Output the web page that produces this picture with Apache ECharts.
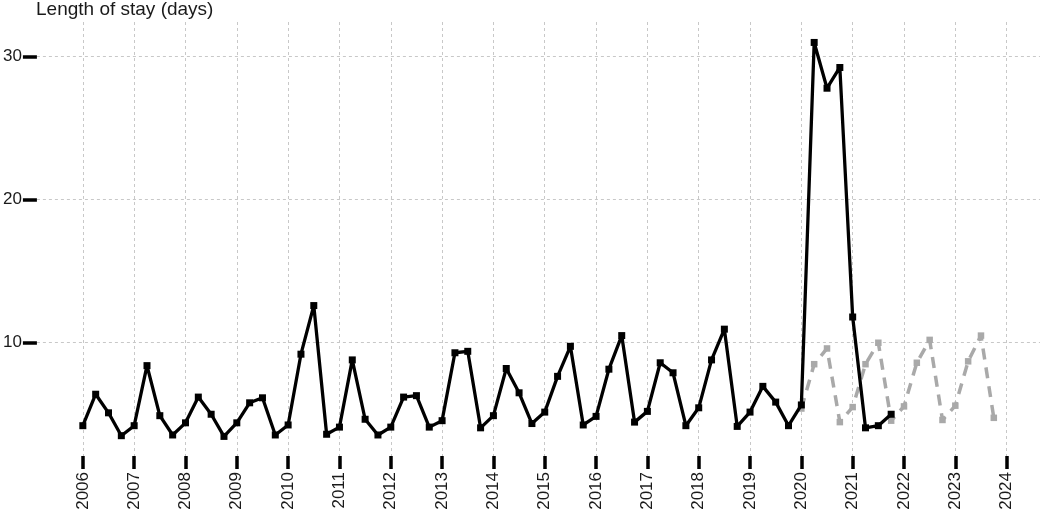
<!DOCTYPE html>
<html>
<head>
<meta charset="utf-8">
<script src="https://cdn.jsdelivr.net/npm/echarts@6/dist/echarts.min.js"></script>
<style>
html,body{margin:0;padding:0;background:#fff;}
#chart{width:1040px;height:514px;}
</style>
</head>
<body>
<div id="chart"></div>
<script>
// Quarterly data, first quarter of each start year
const observedStart = 2006;
const observedValues = [
  4.2, 6.4, 5.1, 3.5,
  4.2, 8.4, 4.9, 3.55,
  4.4, 6.2, 5.0, 3.45,
  4.4, 5.8, 6.15, 3.55,
  4.25, 9.2, 12.6, 3.6,
  4.1, 8.8, 4.65, 3.55,
  4.1, 6.2, 6.3, 4.1,
  4.55, 9.3, 9.4, 4.05,
  4.9, 8.2, 6.5, 4.35,
  5.15, 7.65, 9.75, 4.25,
  4.85, 8.15, 10.5, 4.45,
  5.2, 8.6, 7.9, 4.2,
  5.45, 8.8, 10.95, 4.15,
  5.15, 6.95, 5.85, 4.2,
  5.65, 31.0, 27.8, 29.25,
  11.8, 4.05, 4.2, 5.0
];
const expectedStart = 2020;
const expectedValues = [
  5.4, 8.5, 9.6, 4.45,
  5.5, 8.5, 10.0, 4.55,
  5.55, 8.6, 10.2, 4.6,
  5.6, 8.7, 10.5, 4.75
];
const yearTicks = [2006,2007,2008,2009,2010,2011,2012,2013,2014,2015,2016,2017,2018,2019,2020,2021,2022,2023,2024];
const valueTicks = [10, 20, 30];
const titleText = 'Length of stay (days)';

function toPoints(start, vals) {
  return vals.map((v, i) => [start + i * 0.25, v]);
}

const font = '"Liberation Sans", Arial, sans-serif';
const chart = echarts.init(document.getElementById('chart'), null, {renderer: 'canvas'});
chart.setOption({
  animation: false,
  backgroundColor: '#ffffff',
  title: {
    text: titleText,
    left: 36, top: 0, padding: 0,
    textStyle: {fontFamily: font, fontSize: 19, fontWeight: 'normal', color: '#1a1a1a'}
  },
  grid: {left: 36, right: 0, top: 22, bottom: 58, containLabel: false},
  xAxis: {
    type: 'value',
    min: 2005.105,
    max: 2024.65,
    axisLine: {show: false},
    axisTick: {show: true, customValues: yearTicks, length: 13, lineStyle: {color: '#000', width: 3.5}},
    axisLabel: {customValues: yearTicks, formatter: v => String(v), rotate: 90, margin: 16, fontFamily: font, fontSize: 17, color: '#1a1a1a'},
    splitLine: {show: true, lineStyle: {color: '#c8c8c8', width: 1, type: [3, 3]}}
  },
  yAxis: {
    type: 'value',
    min: 2.08,
    max: 32.43,
    axisLine: {show: false},
    axisTick: {show: true, customValues: valueTicks, length: 14, lineStyle: {color: '#000', width: 3.5}},
    axisLabel: {customValues: valueTicks, formatter: v => String(v), margin: 15, fontFamily: font, fontSize: 17, color: '#1a1a1a'},
    splitLine: {show: true, lineStyle: {color: '#c8c8c8', width: 1, type: [3, 3]}}
  },
  series: [
    {
      type: 'line',
      data: toPoints(expectedStart, expectedValues),
      symbol: 'rect', symbolSize: 6.5,
      itemStyle: {color: '#a9a9a9'},
      lineStyle: {color: '#a9a9a9', width: 3.5, type: [11, 8]},
      z: 2
    },
    {
      type: 'line',
      data: toPoints(observedStart, observedValues),
      symbol: 'rect', symbolSize: 7,
      itemStyle: {color: '#000'},
      lineStyle: {color: '#000', width: 3.3},
      z: 3
    }
  ]
});
</script>
</body>
</html>
